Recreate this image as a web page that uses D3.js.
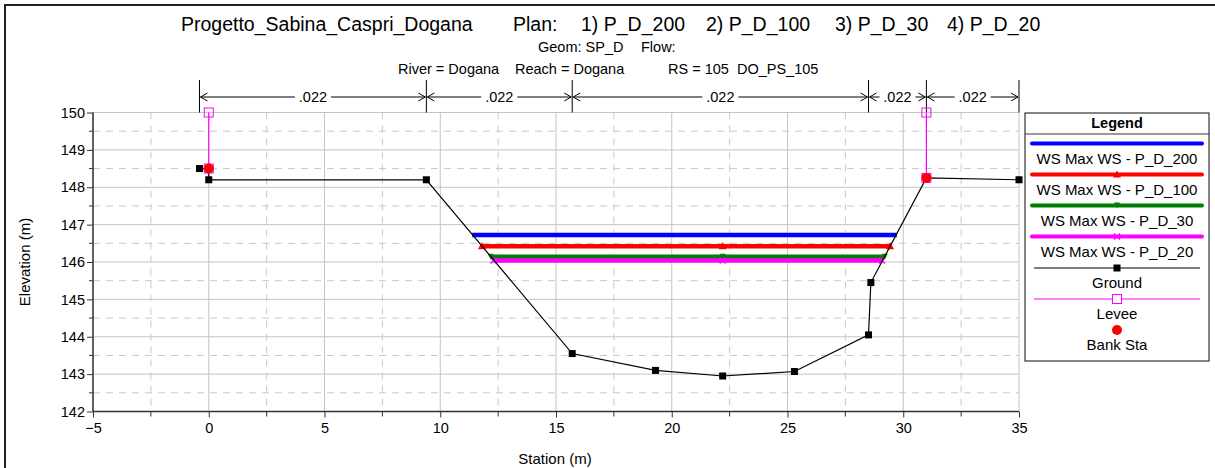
<!DOCTYPE html>
<html><head><meta charset="utf-8">
<script src="https://cdn.jsdelivr.net/npm/d3@7"></script>
<style>
body{margin:0;background:#fff;}
text{font-family:"Liberation Sans",Arial,sans-serif;fill:#000;}
</style></head>
<body><svg id="c" width="1215" height="468"></svg>
<script>
// ---- data ----
const groundSta  = [-0.4, 0, 0, 9.4, 15.7, 19.3, 22.2, 25.3, 28.5, 28.6, 31.0, 35.0];
const groundElev = [148.5, 148.5, 148.2, 148.2, 143.55, 143.1, 142.95, 143.07, 144.05, 145.45, 148.25, 148.2];
const wsNames = ["WS Max WS - P_D_200","WS Max WS - P_D_100","WS Max WS - P_D_30","WS Max WS - P_D_20"];
const wsColors = ["#0000ff","#ff0000","#008000","#ff00ff"];
const wsElev  = [146.72, 146.42, 146.14, 146.04];
const wsLeft  = [11.38, 11.8, 12.18, 12.3];
const wsRight = [29.72, 29.43, 29.2, 29.08];
const wsMid   = 22.2;
const leveeSta = [0, 31.0];
const leveeTop = [150, 150];
const leveeBot = [148.5, 148.25];
const bankSta  = [0, 31.0];
const bankElev = [148.5, 148.25];
const nSta = [-0.4, 9.4, 15.7, 28.5, 31.0, 35.0];
const nVal = [".022", ".022", ".022", ".022", ".022"];
const xTicks = [-5, 0, 5, 10, 15, 20, 25, 30, 35];
const yTicks = [142, 143, 144, 145, 146, 147, 148, 149, 150];
const titleParts = ["Progetto_Sabina_Caspri_Dogana", "Plan:", "1) P_D_200", "2) P_D_100", "3) P_D_30", "4) P_D_20"];
const geomParts  = ["Geom: SP_D", "Flow:"];
const rsParts    = ["River = Dogana", "Reach = Dogana", "RS = 105  DO_PS_105"];

// ---- layout ----
const svg = d3.select("#c");
const L = 93, R = 1019, T = 112.5, B = 411.5;
const x = d3.scaleLinear().domain([-5, 35]).range([L, R]);
const y = d3.scaleLinear().domain([142, 150]).range([B, T]);
const FONT = "Liberation Sans, Arial, sans-serif";

// frame border (cropped screenshot)
svg.append("line").attr("x1",5).attr("x2",5).attr("y1",4).attr("y2",468).attr("stroke","#222").attr("stroke-width",2);
svg.append("line").attr("x1",4).attr("x2",1215).attr("y1",5).attr("y2",5).attr("stroke","#222").attr("stroke-width",2);

// grid
const g = svg.append("g");
const minorX = d3.range(-2.5, 35, 5);
const minorY = d3.range(142.5, 150, 1);
g.selectAll(".mx").data(minorX).join("line").attr("x1",d=>x(d)).attr("x2",d=>x(d)).attr("y1",T).attr("y2",B)
  .attr("stroke","#c8c8c8").attr("stroke-dasharray","7,6");
g.selectAll(".my").data(minorY).join("line").attr("x1",L).attr("x2",R).attr("y1",d=>y(d)).attr("y2",d=>y(d))
  .attr("stroke","#c8c8c8").attr("stroke-dasharray","7,6");
g.selectAll(".gx").data(xTicks).join("line").attr("x1",d=>x(d)).attr("x2",d=>x(d)).attr("y1",T).attr("y2",B)
  .attr("stroke","#c4c4c4");
g.selectAll(".gy").data(yTicks).join("line").attr("x1",L).attr("x2",R).attr("y1",d=>y(d)).attr("y2",d=>y(d))
  .attr("stroke","#c4c4c4");

// axes
const xAxis = d3.axisBottom(x).tickValues(xTicks).tickSize(6).tickPadding(5).tickFormat(d3.format("d"));
const yAxis = d3.axisLeft(y).tickValues(yTicks).tickSize(6).tickPadding(2).tickFormat(d3.format("d"));
const gx = svg.append("g").attr("transform",`translate(0,${B})`).call(xAxis);
const gy = svg.append("g").attr("transform",`translate(${L},0)`).call(yAxis);
[gx,gy].forEach(a=>{
  a.select(".domain").attr("stroke","#333").attr("stroke-width",1.5);
  a.selectAll(".tick line").attr("stroke","#333");
  a.selectAll("text").style("font-family",FONT).style("font-size","14.5px").attr("fill","#000");
});
gx.select(".domain").attr("d",`M${L},0H${R}`);
gy.select(".domain").attr("d",`M0,${T}V${B}`);
svg.append("g").selectAll("line").data(minorX).join("line").attr("x1",d=>x(d)).attr("x2",d=>x(d)).attr("y1",B).attr("y2",B+5).attr("stroke","#333");
svg.append("g").selectAll("line").data(minorY).join("line").attr("x1",L-4).attr("x2",L).attr("y1",d=>y(d)).attr("y2",d=>y(d)).attr("stroke","#333");

// axis titles
svg.append("text").attr("x",555).attr("y",464).attr("text-anchor","middle").style("font-size","15px").text("Station (m)");
svg.append("text").attr("transform","translate(30,262) rotate(-90)").attr("text-anchor","middle").style("font-size","15px").text("Elevation (m)");

// titles
const t1x = [181, 513, 581, 706, 835, 947];
titleParts.forEach((s,i)=>svg.append("text").attr("x",t1x[i]).attr("y",31).style("font-size","19.5px").text(s));
const t2x = [538, 641];
geomParts.forEach((s,i)=>svg.append("text").attr("x",t2x[i]).attr("y",52).style("font-size","14.5px").text(s));
const t3x = [398, 515, 668];
rsParts.forEach((s,i)=>svg.append("text").attr("x",t3x[i]).attr("y",74).attr("xml:space","preserve").style("font-size","14.5px").style("white-space","pre").text(s));

// manning's n
const ny = 97;
const ng = svg.append("g");
nSta.forEach(s=>ng.append("line").attr("x1",x(s)).attr("x2",x(s)).attr("y1",80).attr("y2",T).attr("stroke","#000"));
nVal.forEach((v,i)=>{
  const a = x(nSta[i]), b = x(nSta[i+1]), m = (a+b)/2;
  const tw = 36;
  ng.append("line").attr("x1",a+1).attr("x2",m-tw/2).attr("y1",ny).attr("y2",ny).attr("stroke","#000");
  ng.append("line").attr("x1",m+tw/2).attr("x2",b-1).attr("y1",ny).attr("y2",ny).attr("stroke","#000");
  ng.append("path").attr("d",`M${a+8},${ny-4}L${a+1},${ny}L${a+8},${ny+4}`).attr("fill","none").attr("stroke","#000");
  ng.append("path").attr("d",`M${b-8},${ny-4}L${b-1},${ny}L${b-8},${ny+4}`).attr("fill","none").attr("stroke","#000");
  ng.append("text").attr("x",m).attr("y",ny+5).attr("text-anchor","middle").style("font-size","14.5px").text(v);
});

// water surfaces
const wsg = svg.append("g");
function marker(sel, i, cx, cy){
  if(i===1){ sel.append("path").attr("d",`M${cx-4},${cy+3}L${cx},${cy-4}L${cx+4},${cy+3}Z`).attr("fill",wsColors[i]); }
  else if(i===2){ sel.append("path").attr("d",`M${cx-3},${cy-3}L${cx+3},${cy-3}L${cx},${cy+3}Z`).attr("fill",wsColors[i]); }
  else if(i===3){ sel.append("path").attr("d",`M${cx-3},${cy-3}L${cx+3},${cy+3}M${cx+3},${cy-3}L${cx-3},${cy+3}`).attr("stroke",wsColors[i]).attr("stroke-width",1.5); }
}
wsElev.forEach((e,i)=>{
  wsg.append("line").attr("x1",x(wsLeft[i])).attr("x2",x(wsRight[i])).attr("y1",y(e)).attr("y2",y(e))
    .attr("stroke",wsColors[i]).attr("stroke-width",4.5);
  [wsLeft[i], wsMid, wsRight[i]].forEach(s=>marker(wsg,i,x(s),y(e)));
});

// ground
const line = d3.line().x(d=>x(d[0])).y(d=>y(d[1]));
const gpts = groundSta.map((s,i)=>[s,groundElev[i]]);
svg.append("path").attr("d",line(gpts)).attr("fill","none").attr("stroke","#000").attr("stroke-width",1.2);
svg.append("g").selectAll("rect").data(gpts).join("rect")
  .attr("x",d=>x(d[0])-3.5).attr("y",d=>y(d[1])-3.5).attr("width",7).attr("height",7).attr("fill","#000");

// levees
leveeSta.forEach((s,i)=>{
  svg.append("line").attr("x1",x(s)).attr("x2",x(s)).attr("y1",y(leveeTop[i])).attr("y2",y(leveeBot[i])).attr("stroke","#ff00ff").attr("stroke-width",1.2);
  [leveeTop[i],leveeBot[i]].forEach(e=>svg.append("rect").attr("x",x(s)-4.5).attr("y",y(e)-4.5).attr("width",9).attr("height",9)
    .attr("fill","none").attr("stroke","#ff00ff").attr("stroke-width",1));
});
// bank stations
svg.append("g").selectAll("circle").data(bankSta).join("circle")
  .attr("cx",d=>x(d)).attr("cy",(d,i)=>y(bankElev[i])).attr("r",5).attr("fill","#ff0000");

// legend
const lg = svg.append("g");
const LX0 = 1025, LX1 = 1209, LY0 = 113, LY1 = 361;
lg.append("rect").attr("x",LX0).attr("y",LY0).attr("width",LX1-LX0).attr("height",LY1-LY0).attr("fill","#fff").attr("stroke","#333").attr("stroke-width",1.2);
lg.append("line").attr("x1",LX0).attr("x2",LX1).attr("y1",134).attr("y2",134).attr("stroke","#333");
lg.append("text").attr("x",(LX0+LX1)/2).attr("y",128).attr("text-anchor","middle").style("font-size","14.5px").style("font-weight","bold").text("Legend");
const lx0 = 1032, lx1 = 1202, lxm = (lx0+lx1)/2;
wsNames.forEach((n,i)=>{
  const ly = 143.5 + i*31;
  lg.append("line").attr("x1",lx0).attr("x2",lx1).attr("y1",ly).attr("y2",ly).attr("stroke",wsColors[i]).attr("stroke-width",4).attr("stroke-linecap","round");
  marker(lg,i,lxm,ly);
  lg.append("text").attr("x",lxm).attr("y",ly+20).attr("text-anchor","middle").style("font-size","15px").text(n);
});
// Ground
lg.append("line").attr("x1",lx0+2).attr("x2",lx1-2).attr("y1",268).attr("y2",268).attr("stroke","#000");
lg.append("rect").attr("x",lxm-3.5).attr("y",264.5).attr("width",7).attr("height",7).attr("fill","#000");
lg.append("text").attr("x",lxm).attr("y",288).attr("text-anchor","middle").style("font-size","15px").text("Ground");
// Levee
lg.append("line").attr("x1",lx0+2).attr("x2",lx1-2).attr("y1",299).attr("y2",299).attr("stroke","#ff00ff");
lg.append("rect").attr("x",lxm-4.5).attr("y",294.5).attr("width",9).attr("height",9).attr("fill","#fff").attr("stroke","#ff00ff");
lg.append("text").attr("x",lxm).attr("y",319).attr("text-anchor","middle").style("font-size","15px").text("Levee");
// Bank Sta
lg.append("circle").attr("cx",lxm).attr("cy",330).attr("r",5).attr("fill","#ff0000");
lg.append("text").attr("x",lxm).attr("y",350).attr("text-anchor","middle").style("font-size","15px").text("Bank Sta");
</script></body></html>
